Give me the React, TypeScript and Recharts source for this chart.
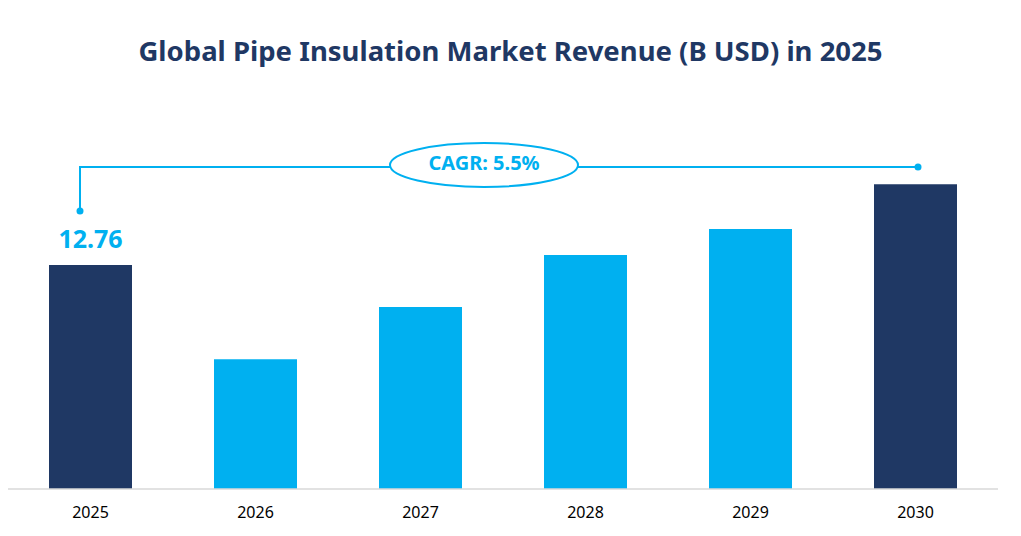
import React from 'react';
import { BarChart, Bar, XAxis, YAxis, Cell, LabelList } from 'recharts';

const years = ['2025', '2026', '2027', '2028', '2029', '2030'];
const revenue = [12.76, 7.4, 10.37, 13.33, 14.81, 17.37];
const highlight = [true, false, false, false, false, true];

const DARK = '#1F3864';
const LIGHT = '#00B0F0';
const FONT = "'Noto Sans', sans-serif";

const data = years.map((year, i) => ({ year, value: revenue[i] }));

const FirstLabel = (props: any) => {
  const { x, y, width, value, index } = props;
  if (index !== 0) return null;
  return (
    <text
      x={x + width / 2}
      y={y - 17}
      textAnchor="middle"
      fill={LIGHT}
      fontSize={25}
      fontWeight="bold"
      fontFamily={FONT}
    >
      {value.toFixed(2)}
    </text>
  );
};

// CAGR bracket drawn over the chart
const CagrOverlay = () => (
  <svg
    width={1021}
    height={536}
    style={{ position: 'absolute', left: 0, top: 0, pointerEvents: 'none' }}
  >
    <polyline points="80,211 80,167 390,167" fill="none" stroke={LIGHT} strokeWidth={2} />
    <line x1={578} y1={167} x2={918} y2={167} stroke={LIGHT} strokeWidth={2} />
    <circle cx={80} cy={211} r={3.5} fill={LIGHT} />
    <circle cx={918} cy={167} r={3.5} fill={LIGHT} />
    <ellipse cx={484} cy={165} rx={94} ry={22} fill="#fff" stroke={LIGHT} strokeWidth={2} />
    <text
      x={484}
      y={170}
      textAnchor="middle"
      fill={LIGHT}
      fontSize={20}
      fontWeight="bold"
      fontFamily={FONT}
    >
      CAGR: 5.5%
    </text>
  </svg>
);

export default function App() {
  return (
    <div style={{ position: 'absolute', left: 0, top: 0, width: 1021, height: 536, background: '#fff' }}>
      <div
        style={{
          position: 'absolute',
          left: 0,
          top: 34,
          width: 1021,
          textAlign: 'center',
          fontFamily: FONT,
          fontWeight: 'bold',
          fontSize: 27.5,
          lineHeight: '34px',
          color: DARK,
        }}
      >
        Global Pipe Insulation Market Revenue (B USD) in 2025
      </div>
      <div style={{ position: 'absolute', left: 0, top: 0 }}>
        <BarChart
          width={1021}
          height={536}
          data={data}
          margin={{ top: 138, right: 23, bottom: 17, left: 8 }}
        >
          <XAxis
            dataKey="year"
            axisLine={{ stroke: '#d9d9d9', strokeWidth: 1.5 }}
            tickLine={false}
            tickMargin={12}
            tick={{ fill: '#000', fontSize: 16, fontFamily: FONT }}
            interval={0}
          />
          <YAxis hide domain={[0, 20]} />
          <Bar dataKey="value" barSize={83} isAnimationActive={false}>
            {data.map((d, i) => (
              <Cell key={d.year} fill={highlight[i] ? DARK : LIGHT} />
            ))}
            <LabelList dataKey="value" content={FirstLabel} />
          </Bar>
        </BarChart>
      </div>
      <CagrOverlay />
    </div>
  );
}
